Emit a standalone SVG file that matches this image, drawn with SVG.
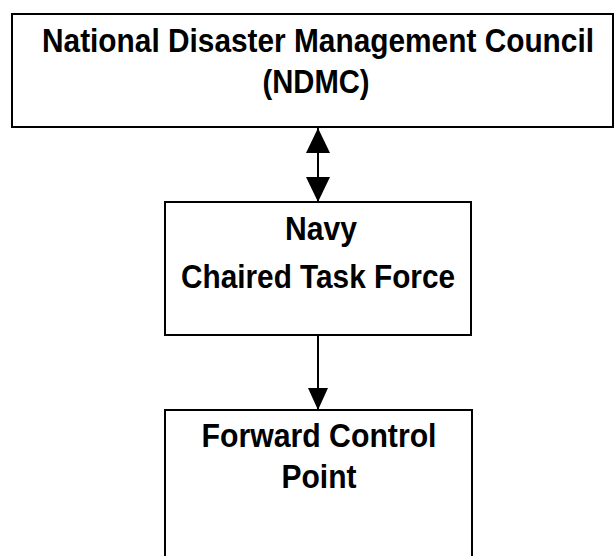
<svg xmlns="http://www.w3.org/2000/svg" width="615" height="556" viewBox="0 0 615 556">
  <style>
    .box { fill: #ffffff; stroke: #000000; stroke-width: 2; }
    .lbl { font-family: "Liberation Sans", Arial, sans-serif; font-weight: bold; font-size: 30px; fill: #000000; }
    .conn { stroke: #000000; stroke-width: 2; fill: none; }
  </style>
  <defs>
    <marker id="headL" viewBox="0 0 25 24" refX="25" refY="12" markerWidth="25" markerHeight="24" markerUnits="userSpaceOnUse" orient="auto-start-reverse">
      <path d="M0,0 L25,12 L0,24 Z" fill="#000000"/>
    </marker>
    <marker id="headS" viewBox="0 0 22 20" refX="22" refY="10" markerWidth="22" markerHeight="20" markerUnits="userSpaceOnUse" orient="auto">
      <path d="M0,0 L22,10 L0,20 Z" fill="#000000"/>
    </marker>
  </defs>
  <rect width="615" height="556" fill="#ffffff"/>
  <g id="ndmc">
    <rect class="box" x="12" y="14" width="601" height="113"/>
    <text class="lbl" transform="translate(318,52) scale(1,1.12)" text-anchor="middle" textLength="552" lengthAdjust="spacingAndGlyphs">National Disaster Management Council</text>
    <text class="lbl" transform="translate(316,93) scale(1,1.12)" text-anchor="middle" textLength="107" lengthAdjust="spacingAndGlyphs">(NDMC)</text>
  </g>
  <g id="taskforce">
    <rect class="box" x="165" y="202" width="306" height="133"/>
    <text class="lbl" transform="translate(321,240) scale(1,1.12)" text-anchor="middle" textLength="72" lengthAdjust="spacingAndGlyphs">Navy</text>
    <text class="lbl" transform="translate(318,288) scale(1,1.12)" text-anchor="middle" textLength="274" lengthAdjust="spacingAndGlyphs">Chaired Task Force</text>
  </g>
  <g id="fcp">
    <rect class="box" x="165" y="410" width="307" height="170"/>
    <text class="lbl" transform="translate(319,447) scale(1,1.12)" text-anchor="middle" textLength="235" lengthAdjust="spacingAndGlyphs">Forward Control</text>
    <text class="lbl" transform="translate(319,488) scale(1,1.12)" text-anchor="middle" textLength="75" lengthAdjust="spacingAndGlyphs">Point</text>
  </g>
  <g id="connectors">
    <path class="conn" d="M318,128 L318,202" marker-start="url(#headL)" marker-end="url(#headL)"/>
    <path class="conn" d="M318,335 L318,410" marker-end="url(#headS)"/>
  </g>
</svg>
